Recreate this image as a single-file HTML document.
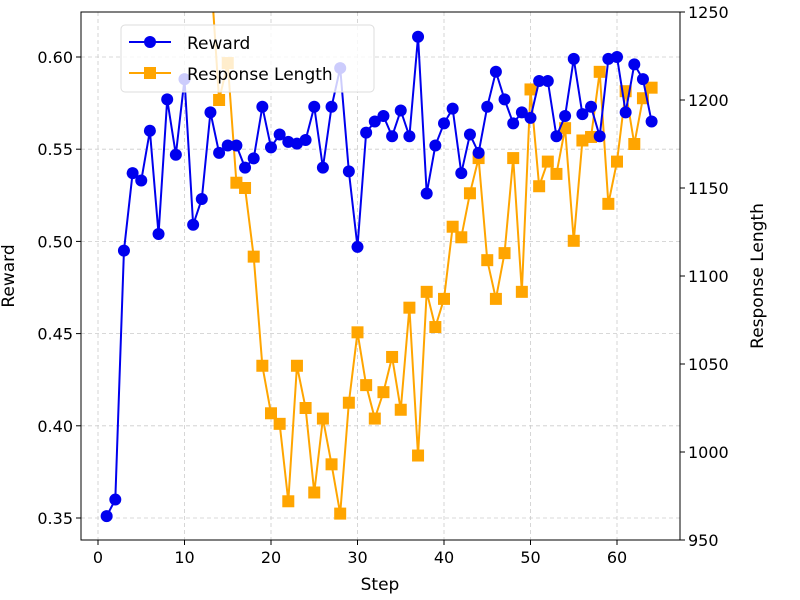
<!DOCTYPE html>
<html><head><meta charset="utf-8"><style>
body{margin:0;background:#fff;}
svg{display:block;font-family:"DejaVu Sans","Liberation Sans",sans-serif;}
</style></head><body>
<svg id="chart" width="800" height="600" xmlns="http://www.w3.org/2000/svg"></svg>
<script>
const steps = Array.from({length:64},(_,i)=>i+1);
const rewardValues = [0.351,0.360,0.495,0.537,0.533,0.560,0.504,0.577,0.547,0.588,0.509,0.523,0.570,0.548,0.552,0.552,0.540,0.545,0.573,0.551,0.558,0.554,0.553,0.555,0.573,0.540,0.573,0.594,0.538,0.497,0.559,0.565,0.568,0.557,0.571,0.557,0.611,0.526,0.552,0.564,0.572,0.537,0.558,0.548,0.573,0.592,0.577,0.564,0.570,0.567,0.587,0.587,0.557,0.568,0.599,0.569,0.573,0.557,0.599,0.600,0.570,0.596,0.588,0.565];
const lengthValues = [1420,1410,1400,1390,1380,1370,1360,1350,1340,1320,1310,1290,1275,1200,1221,1153,1150,1111,1049,1022,1016,972,1049,1025,977,1019,993,965,1028,1068,1038,1019,1034,1054,1024,1082,998,1091,1071,1087,1128,1122,1147,1167,1109,1087,1113,1167,1091,1206,1151,1165,1158,1184,1120,1177,1179,1216,1141,1165,1205,1175,1201,1207];
const xTicks = [0,10,20,30,40,50,60];
const leftTicks = [0.35,0.40,0.45,0.50,0.55,0.60];
const rightTicks = [950,1000,1050,1100,1150,1200,1250];

const L=81,R=680,T=12,B=540;
const xs = v => 98 + v*(617-98)/60;
const yl = v => 518 - (v-0.35)*(518-57)/0.25;
const yr = v => 540 - (v-950)*(528/300);
const NS='http://www.w3.org/2000/svg';
const svg=document.getElementById('chart');
function mk(tag,attrs,parent){const e=document.createElementNS(NS,tag);for(const k in attrs)e.setAttribute(k,attrs[k]);(parent||svg).appendChild(e);return e;}

const defs=mk('defs',{});
const cp=mk('clipPath',{id:'clip'},defs);
mk('rect',{x:L,y:T,width:R-L,height:B-T},cp);

const grid=mk('g',{});


xTicks.forEach(t=>{mk('line',{x1:xs(t),x2:xs(t),y1:T,y2:B,stroke:'#ccc','stroke-dasharray':'4,3','stroke-width':0.8},grid);});
leftTicks.forEach(t=>{mk('line',{x1:L,x2:R,y1:yl(t),y2:yl(t),stroke:'#ccc','stroke-dasharray':'4,3','stroke-width':0.8},grid);});

const og=mk('g',{'clip-path':'url(#clip)'});


mk('polyline',{points:steps.map((s,i)=>xs(s)+','+yr(lengthValues[i])).join(' '),fill:'none',stroke:'#FFA500','stroke-width':2},og);
steps.forEach((s,i)=>{
  const r=mk('rect',{x:xs(s)-6,y:yr(lengthValues[i])-6,width:12,height:12,fill:'#FFA500'},og);
  
  
});
const bg=mk('g',{'clip-path':'url(#clip)'});


mk('polyline',{points:steps.map((s,i)=>xs(s)+','+yl(rewardValues[i])).join(' '),fill:'none',stroke:'#0000EE','stroke-width':2},bg);
steps.forEach((s,i)=>{
  const c=mk('circle',{cx:xs(s),cy:yl(rewardValues[i]),r:6,fill:'#0000EE'},bg);
  
  
});

mk('rect',{x:L,y:T,width:R-L,height:B-T,fill:'none',stroke:'#000','stroke-width':1});

xTicks.forEach(t=>{
  mk('line',{x1:xs(t),x2:xs(t),y1:B,y2:B+5,stroke:'#000'});
  const tx=mk('text',{x:xs(t),y:B+23,'text-anchor':'middle','font-size':16});
  tx.textContent=t;
  
  
});
leftTicks.forEach(t=>{
  mk('line',{x1:L-5,x2:L,y1:yl(t),y2:yl(t),stroke:'#000'});
  const tx=mk('text',{x:L-8,y:yl(t)+6,'text-anchor':'end','font-size':16});
  tx.textContent=t.toFixed(2);
  
  
});
rightTicks.forEach(t=>{
  mk('line',{x1:R,x2:R+5,y1:yr(t),y2:yr(t),stroke:'#000'});
  const tx=mk('text',{x:R+8,y:yr(t)+6,'text-anchor':'start','font-size':16});
  tx.textContent=t;
  
  
});
</script>
<svg width="800" height="600" style="position:absolute;left:0;top:0;font-family:'DejaVu Sans','Liberation Sans',sans-serif">
  <text x="380" y="590" text-anchor="middle" font-size="17">Step</text>
  <text transform="translate(14,276) rotate(-90)" text-anchor="middle" font-size="17">Reward</text>
  <text transform="translate(763,276) rotate(-90)" text-anchor="middle" font-size="17">Response Length</text>
  <g>
    <rect x="121" y="25" width="253" height="67" rx="4" fill="rgba(255,255,255,0.8)" stroke="#ddd"/>
    <g>
      <line x1="129" x2="171" y1="42" y2="42" stroke="#0000EE" stroke-width="2"/>
      <circle cx="150" cy="42" r="6" fill="#0000EE"/>
      <text x="187" y="49" font-size="17">Reward</text>
    </g>
    <g>
      <line x1="129" x2="171" y1="73" y2="73" stroke="#FFA500" stroke-width="2"/>
      <rect x="144" y="67" width="12" height="12" fill="#FFA500"/>
      <text x="187" y="80" font-size="17">Response Length</text>
    </g>
  </g>
</svg>
</body></html>
